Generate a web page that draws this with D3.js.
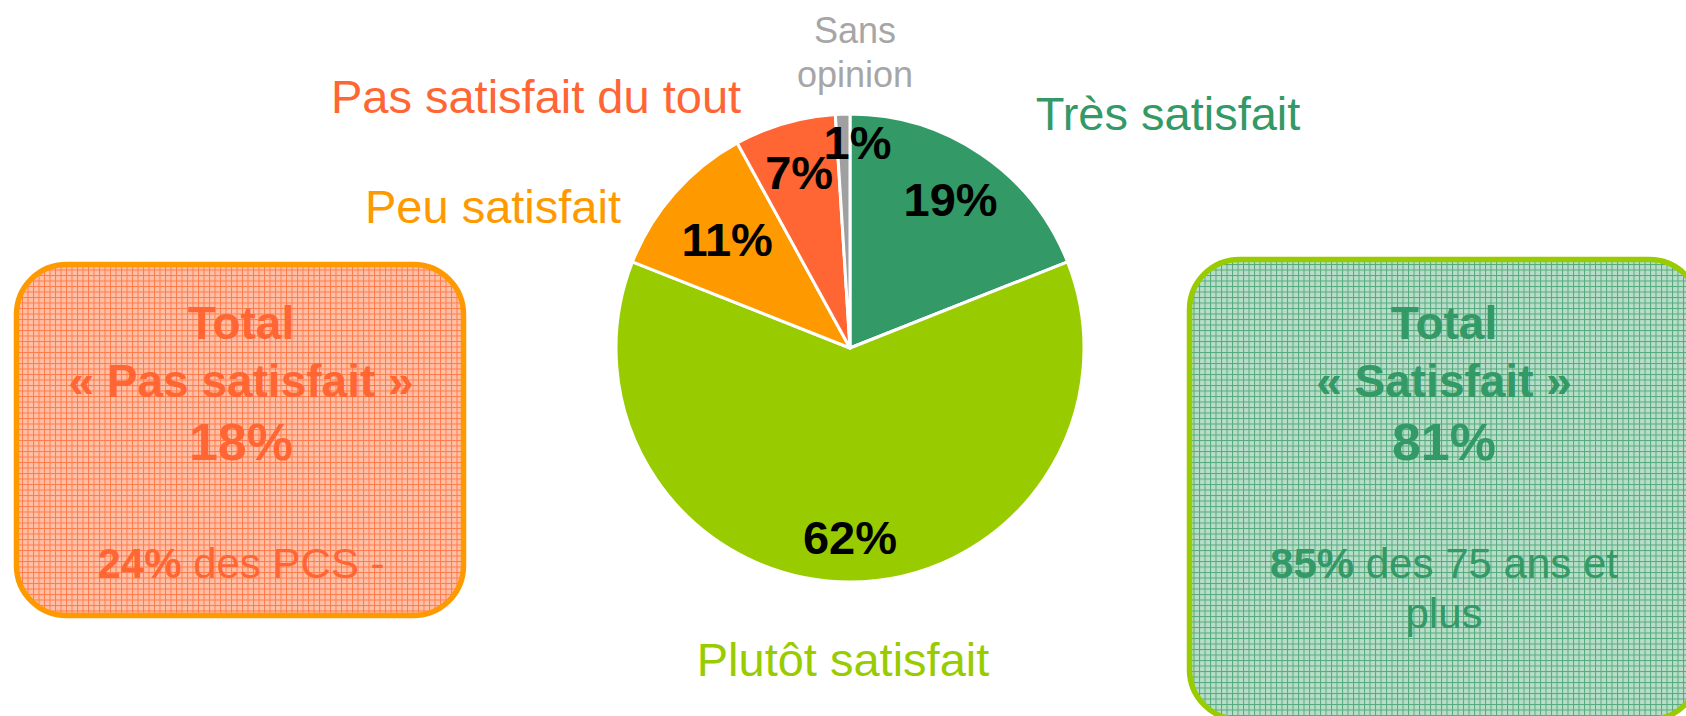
<!DOCTYPE html>
<html lang="fr">
<head>
<meta charset="utf-8" />
<title>Satisfaction – camembert</title>
<style>
  body{margin:0;background:#fff;font-family:"Liberation Sans",Arial,sans-serif;}
  svg{display:block}
  .pct{font-weight:700;font-size:47px;fill:#000;text-anchor:middle}
  .cat{font-size:47px;text-anchor:middle}
  .box-title{font-weight:700;font-size:46px;text-anchor:middle}
  .box-big{font-weight:700;font-size:52px;text-anchor:middle}
  .box-note{font-size:42px;text-anchor:middle}
</style>
<script src="https://cdn.jsdelivr.net/npm/d3@7.9.0/dist/d3.min.js"></script>
</head>
<body>
<div id="chart"></div>
<script>
/* ---------- data ---------- */
const categories = ['Très satisfait','Plutôt satisfait','Peu satisfait','Pas satisfait du tout','Sans opinion'];
const values     = [19, 62, 11, 7, 1];
const totals     = {pas:18, sat:81};
const notes      = {pas:[24,' des PCS -'], sat:[85,' des 75 ans et','plus']};

/* ---------- styles / layout ---------- */
const colors    = ['#339966','#99CC00','#FF9900','#FF6633','#A0A0A0'];
const labelCol  = ['#339966','#99CC00','#FF9900','#FF6633','#A6A6A6'];
const labelR    = [0.765, 0.81, 0.70, 0.78, 0.88];   // pct label radius (share of R)
const labelDx   = [0, 0, 0, 0, 14];                  // small nudge, like Excel's best fit
// hand placed category labels (Excel manual layout): [cx, baseline]
const catPos    = [[1168,130],[843,676],[493,223],[536,113],[855,43]];

const W = 1686, H = 716;
const CX = 850, CY = 348, R = 234;

const svg = d3.select('#chart').append('svg')
  .attr('width',W).attr('height',H).attr('viewBox',[0,0,W,H]);

/* hatched grid fills for the side boxes */
const defs = svg.append('defs');
function gridPattern(id, bg, line){
  const p = defs.append('pattern').attr('id',id)
    .attr('width',5.5).attr('height',5.5).attr('patternUnits','userSpaceOnUse');
  p.append('rect').attr('width',5.5).attr('height',5.5).attr('fill',bg);
  p.append('rect').attr('x',0).attr('y',0).attr('width',1).attr('height',5.5).attr('fill',line);
  p.append('rect').attr('x',0).attr('y',0).attr('width',5.5).attr('height',1).attr('fill',line);
}
gridPattern('gridRed',  '#FFC0A6', '#FF7A4A');
gridPattern('gridGreen','#B8DEC9', '#55AA7C');

/* ---------- side boxes ---------- */
function box(x,y,w,h,fill,stroke){
  svg.append('rect').attr('x',x).attr('y',y).attr('width',w).attr('height',h)
    .attr('rx',50).attr('ry',50)
    .attr('fill',`url(#${fill})`).attr('stroke',stroke).attr('stroke-width',5.5);
}
box(16.5,264.5,447,351,'gridRed','#FF9900');
box(1189.5,259.5,510,460,'gridGreen','#99CC00');

function boxText(cx, col, title, total, note){
  const g = svg.append('g').attr('fill',col);
  g.append('text').attr('class','box-title').attr('x',cx).attr('y',339).text('Total');
  g.append('text').attr('class','box-title').attr('x',cx).attr('y',397).text(`« ${title} »`);
  g.append('text').attr('class','box-big').attr('x',cx).attr('y',460).text(total+'%');
  const t = g.append('text').attr('class','box-note').attr('x',cx).attr('y',578);
  t.append('tspan').attr('font-weight',700).text(note[0]+'%');
  t.append('tspan').text(note[1]);
  if(note[2]) g.append('text').attr('class','box-note').attr('x',cx).attr('y',628).text(note[2]);
}
boxText(241,'#FF6633','Pas satisfait',totals.pas,notes.pas);
boxText(1444,'#339966','Satisfait',totals.sat,notes.sat);

/* ---------- pie ---------- */
const pie = d3.pie().sort(null).value(d=>d.v);
const arcs = pie(categories.map((c,i)=>({c,v:values[i],i})));
const arc = d3.arc().innerRadius(0).outerRadius(R);

const pg = svg.append('g').attr('transform',`translate(${CX},${CY})`);
pg.selectAll('path').data(arcs).join('path')
  .attr('d',arc)
  .attr('fill',d=>colors[d.data.i])
  .attr('stroke','#fff').attr('stroke-width',3).attr('stroke-linejoin','round');

pg.selectAll('text.pct').data(arcs).join('text')
  .attr('class','pct')
  .attr('x',d=>{const a=(d.startAngle+d.endAngle)/2; return Math.sin(a)*R*labelR[d.data.i]+labelDx[d.data.i];})
  .attr('y',d=>{const a=(d.startAngle+d.endAngle)/2; return -Math.cos(a)*R*labelR[d.data.i];})
  .attr('dy','0.35em')
  .text(d=>d.data.v+'%');

/* ---------- category labels ---------- */
categories.forEach((c,i)=>{
  const t = svg.append('text').attr('class','cat').attr('fill',labelCol[i])
    .attr('x',catPos[i][0]).attr('y',catPos[i][1]);
  if(c==='Sans opinion'){
    t.style('font-size','36px');
    t.append('tspan').attr('x',catPos[i][0]).text('Sans');
    t.append('tspan').attr('x',catPos[i][0]).attr('dy',44).text('opinion');
  } else t.text(c);
});
</script>
</body>
</html>
